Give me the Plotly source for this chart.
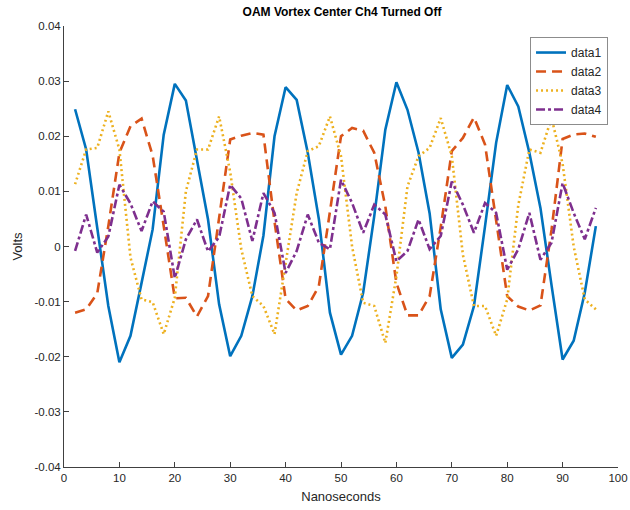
import plotly.graph_objects as go

x_ns = [2, 4, 6, 8, 10, 12, 14, 16, 18, 20, 22, 24, 26, 28, 30, 32, 34, 36, 38, 40, 42, 44, 46, 48,
        50, 52, 54, 56, 58, 60, 62, 64, 66, 68, 70, 72, 74, 76, 78, 80, 82, 84, 86, 88, 90, 92, 94, 96]

data1 = [24.9, 17.6, 3.4, -10.8, -21.0, -16.2, -6.6, 3.1, 20.3, 29.5, 26.5, 15.8, 4.9, -10.5, -19.9, -16.2,
         -9.0, 2.0, 20.0, 28.9, 26.6, 17.0, 5.0, -12.0, -19.6, -16.2, -8.4, 5.5, 21.2, 29.8, 24.8, 17.0,
         6.0, -11.4, -20.2, -17.8, -10.8, 3.7, 18.8, 29.3, 25.4, 17.0, 7.0, -7.0, -20.5, -17.1, -8.4, 3.7]
data2 = [-12.0, -11.4, -8.5, 3.7, 17.0, 21.8, 23.2, 16.5, 3.7, -9.4, -9.3, -12.7, -9.0, 5.0, 19.4, 20.1,
         20.6, 20.3, 4.5, -9.5, -11.6, -10.8, -7.2, 6.3, 20.0, 21.5, 21.0, 17.0, 7.3, -6.6, -12.5, -12.5,
         -9.0, 3.5, 17.3, 19.7, 23.4, 18.5, 4.5, -9.0, -10.9, -11.6, -10.7, 3.0, 19.5, 20.3, 20.5, 19.9]
data3 = [11.3, 17.6, 17.9, 24.5, 17.6, -2.0, -9.6, -10.1, -15.9, -9.3, 10.0, 17.6, 17.6, 23.6, 13.5, -0.5,
         -9.0, -10.8, -15.9, -3.5, 9.7, 17.3, 18.2, 23.6, 16.4, 0.0, -10.2, -10.8, -17.5, -5.4, 10.9, 16.4,
         17.9, 23.3, 16.4, -1.5, -10.8, -10.8, -16.2, -9.6, 7.5, 17.6, 17.0, 23.3, 15.0, 0.0, -9.6, -11.4]
data4 = [-0.8, 5.8, -1.1, 1.8, 11.2, 7.8, 2.8, 8.2, 6.3, -5.7, 1.3, 4.9, -0.9, 1.7, 11.2, 8.7,
         1.0, 9.7, 6.1, -4.8, -0.8, 5.8, 0.7, -0.5, 12.1, 7.9, 2.5, 7.6, 5.8, -2.7, -0.8, 4.9,
         -0.5, 1.9, 11.8, 7.6, 2.5, 7.9, 6.1, -4.2, -0.5, 6.1, -2.4, 0.7, 11.5, 6.1, 1.3, 7.0]

series_names = ["data1", "data2", "data3", "data4"]
series_values = [data1, data2, data3, data4]

x_tick_vals = [0, 10, 20, 30, 40, 50, 60, 70, 80, 90, 100]
y_tick_vals = [-0.04, -0.03, -0.02, -0.01, 0, 0.01, 0.02, 0.03, 0.04]
y_tick_text = ["-0.04", "-0.03", "-0.02", "-0.01", "0", "0.01", "0.02", "0.03", "0.04"]

colors = ["#0072BD", "#D95319", "#EDB120", "#7E2F8E"]
dashes = ["solid", "10px,6px", "2px,3px", "9px,3px,3px,3px"]

fig = go.Figure()
for name, vals, c, d in zip(series_names, series_values, colors, dashes):
    fig.add_trace(go.Scatter(
        x=x_ns, y=[v / 1000 for v in vals], mode="lines", name=name,
        line=dict(color=c, width=2.6, dash=d),
    ))

axis_color = "#404040"
fig.update_layout(
    width=630, height=510,
    margin=dict(l=64, r=12, t=26, b=43),
    paper_bgcolor="white", plot_bgcolor="white",
    font=dict(family="Liberation Sans, Arial, sans-serif", size=11, color="#262626"),
    title=dict(text="<b>OAM Vortex Center Ch4 Turned Off</b>", x=(64 + 620) / 2 / 630, xanchor="center",
               y=1 - 12 / 510, yanchor="middle", font=dict(size=12, color="#000000")),
    showlegend=True,
    legend=dict(x=0.982, xanchor="right", y=0.975, yanchor="top",
                bordercolor="#8c8c8c", borderwidth=1, bgcolor="white",
                font=dict(size=12, color="#262626"), tracegroupgap=0,
                itemwidth=30),
)
fig.update_xaxes(
    range=[0, 100], tickvals=x_tick_vals, ticks="inside", ticklen=5, tickcolor=axis_color,
    showline=True, linecolor=axis_color, linewidth=1, showgrid=False, zeroline=False,
    mirror=False, automargin=False, ticklabeloverflow="allow",
    title=dict(text="Nanoseconds", standoff=9, font=dict(size=13, color="#262626")),
    tickfont=dict(size=11.5, color="#262626"),
)
fig.update_yaxes(
    range=[-0.04, 0.04], tickvals=y_tick_vals, ticktext=y_tick_text, ticks="inside", ticklen=5,
    tickcolor=axis_color, showline=True, linecolor=axis_color, linewidth=1, showgrid=False,
    zeroline=False, mirror=False, automargin=False, ticklabeloverflow="allow",
    title=dict(text="Volts", standoff=8, font=dict(size=13, color="#262626")),
    tickfont=dict(size=11.5, color="#262626"),
)

fig.write_html("out.html")
